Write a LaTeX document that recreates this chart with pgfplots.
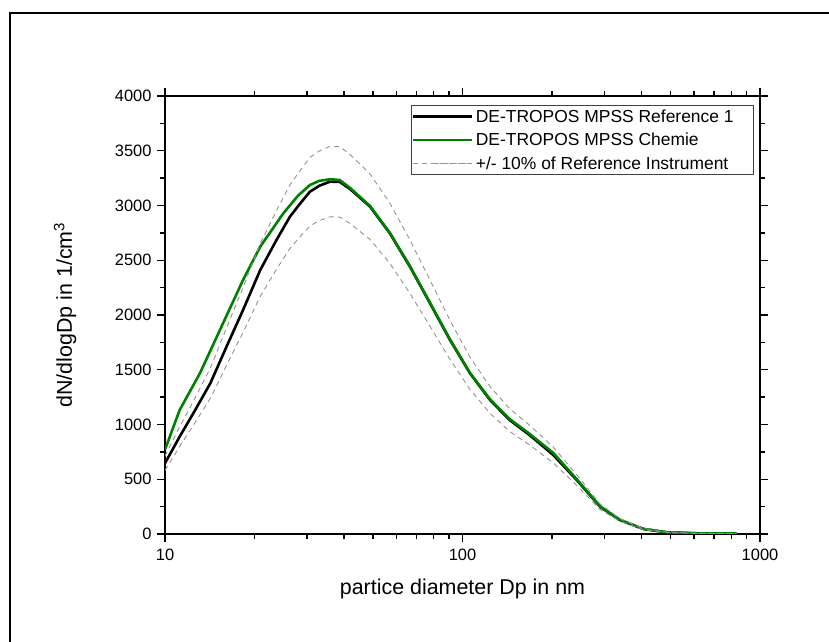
\documentclass[border=0pt]{standalone}
\usepackage{fontspec}
\setmainfont{Liberation Sans}
\usepackage{pgfplots}
\usepackage{pgfplotstable}
\pgfplotsset{compat=1.18}
\definecolor{dgreen}{RGB}{0,128,0}
\pgfplotstableread{
d v
10 646
11.2 889
12.45 1102
14.2 1376
16.1 1711
18.3 2046
20.9 2411
23.7 2685
26.3 2898
28.5 3020
30.7 3126
33 3180
35.9 3218
38.7 3215
41.9 3150
48.9 2989
57 2746
66.6 2441
77.8 2107
90.8 1772
106 1467
123.7 1224
144 1041
168 904
202 721
242 493
290 249
338 128
405 46
486 15
628 5
835 3
}\refdata
\pgfplotstableread{
d v
10 770
11.2 1132
13.1 1467
15.3 1863
18.3 2320
20.9 2624
25 2929
28 3090
30.7 3187
33 3225
36 3240
38.7 3232
41.9 3160
48.9 2995
57 2750
66.6 2445
77.8 2110
90.8 1775
106 1470
123.7 1230
144 1050
168 915
202 740
242 500
290 252
338 130
405 47
486 16
628 6
835 4
}\chemdata
\pgfplotstableread{
d up lo
10 711 581
11.2 978 800
12.45 1212 992
14.2 1514 1238
16.1 1882 1540
18.3 2251 1841
20.9 2652 2170
23.7 2954 2417
26.3 3188 2608
28.5 3322 2718
30.7 3439 2813
33 3498 2862
35.9 3540 2896
38.7 3537 2894
41.9 3465 2835
48.9 3288 2690
57 3021 2471
66.6 2685 2197
77.8 2318 1896
90.8 1949 1595
106 1614 1320
123.7 1346 1102
144 1145 937
168 994 814
202 793 649
242 542 444
290 274 224
338 141 115
405 51 41
486 17 14
628 6 5
835 3 3
}\bounds
\begin{document}
\begin{tikzpicture}
\useasboundingbox (0,0) rectangle (829bp,642bp);
\draw[line width=2bp] (10bp,0) -- (10bp,629bp) -- (829bp,629bp);
\begin{axis}[
  at={(165bp,108bp)}, anchor=south west,
  scale only axis, width=595bp, height=438bp,
  xmode=log, xmin=10, xmax=1000,
  ymin=0, ymax=4000,
  xtick={10,100,1000}, xticklabels={10,100,1000},
  minor xtick={20,30,40,50,60,70,80,90,200,300,400,500,600,700,800,900},
  ytick={0,500,...,4000}, minor ytick={250,750,...,3750},
  /pgf/number format/assume math mode=true,
  /pgf/number format/set thousands separator={},
  tick align=outside,
  major tick length=8bp, minor tick length=5bp,
  every tick/.style={black, line width=1.3bp},
  axis line style={line width=1.5bp},
  ticklabel style={font=\fontsize{16.5}{18}\selectfont},
  xticklabel shift=4bp,
  yticklabel shift=2bp,
  label style={font=\fontsize{21.5}{24}\selectfont},
  xlabel={partice diameter Dp in nm},
  ylabel={dN/dlogDp in 1/cm\textsuperscript{3}},
  xlabel style={at={(axis description cs:0.5,0)}, anchor=base, yshift=-60bp},
  ylabel style={at={(axis description cs:-0.168,0.5)}, anchor=center},
  legend style={at={(1,1)}, anchor=north east, xshift=-6bp, yshift=-9bp,
    draw=black!75, line width=0.8bp, font=\fontsize{17.5}{19}\selectfont,
    inner xsep=0bp, inner ysep=2bp, row sep=5.5bp, nodes={inner xsep=3bp}},
  legend cell align=left,
  legend image code/.code={\path (-21bp,0bp) -- (38bp,0bp); \draw[#1] (0bp,0bp) -- (38bp,0bp);},
]
\addplot[black, line width=2.6bp] table[x=d,y=v] {\refdata};
\addplot[dgreen, line width=2.6bp] table[x=d,y=v] {\chemdata};
\addplot[gray!85, line width=0.9bp, dash pattern=on 5bp off 4bp] table[x=d,y=up] {\bounds};
\addplot[gray!85, line width=0.9bp, dash pattern=on 5bp off 4bp, forget plot] table[x=d,y=lo] {\bounds};
\legend{DE-TROPOS MPSS Reference 1\rule{17bp}{0pt}, DE-TROPOS MPSS Chemie, +/- 10\% of Reference Instrument}
\end{axis}
\end{tikzpicture}
\end{document}
